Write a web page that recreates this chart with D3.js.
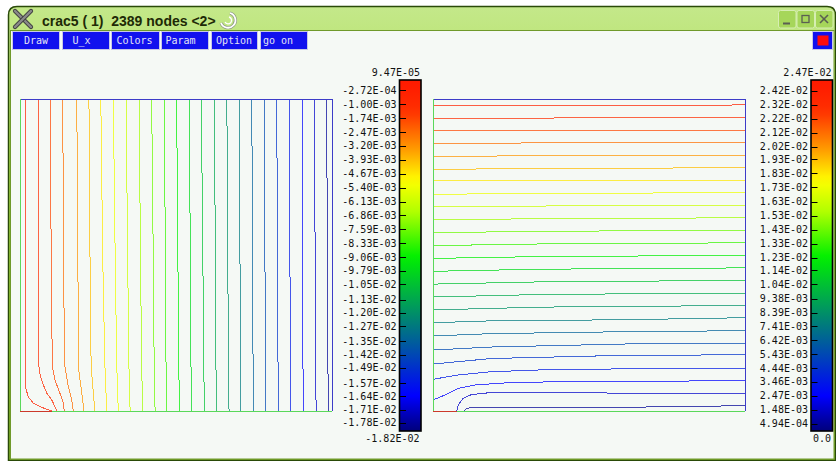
<!DOCTYPE html>
<html>
<head>
<meta charset="utf-8">
<script src="https://cdn.jsdelivr.net/npm/d3@7"></script>
<style>
  html, body { margin: 0; padding: 0; background: #ffffff; }
  svg { display: block; }
  .mono { font-family: "DejaVu Sans Mono", "Liberation Mono", monospace; font-size: 10px; }
</style>
</head>
<body>
<svg id="chart" width="836" height="461"></svg>
<script>
// ---------------------------------------------------------------------------
// Data
// ---------------------------------------------------------------------------
const windowTitle = "crac5 ( 1)  2389 nodes <2>";
const menuLabels = ["Draw", "U_x", "Colors", "Param", "Option", "go on"];

// U_x (left panel): iso-values listed on the colour bar and the field extremes
const uxLevels = [-2.72e-4, -1.00e-3, -1.74e-3, -2.47e-3, -3.20e-3, -3.93e-3, -4.67e-3,
  -5.40e-3, -6.13e-3, -6.86e-3, -7.59e-3, -8.33e-3, -9.06e-3, -9.79e-3, -1.05e-2,
  -1.13e-2, -1.20e-2, -1.27e-2, -1.35e-2, -1.42e-2, -1.49e-2, -1.57e-2, -1.64e-2,
  -1.71e-2, -1.78e-2];
const uxExtent = [-1.82e-2, 9.47e-5];

// U_y (right panel)
const uyLevels = [2.42e-2, 2.32e-2, 2.22e-2, 2.12e-2, 2.02e-2, 1.93e-2, 1.83e-2,
  1.73e-2, 1.63e-2, 1.53e-2, 1.43e-2, 1.33e-2, 1.23e-2, 1.14e-2, 1.04e-2,
  9.38e-3, 8.39e-3, 7.41e-3, 6.42e-3, 5.43e-3, 4.44e-3, 3.46e-3, 2.47e-3,
  1.48e-3, 4.94e-4];
const uyExtent = [0, 2.47e-2];

// Iso-lines of U_x on the unit square (x to the right, y upwards), one per level
const uxIsolines = [
  [[0.018,1],[0.018,0.2],[0.019,0.07],[0.027,0.045],[0.043,0.025],[0.064,0.014],[0.085,0.006],[0.101,0]],
  [[0.058,1],[0.059,0.4],[0.061,0.13],[0.066,0.111],[0.075,0.083],[0.086,0.057],[0.102,0.035],[0.112,0.014],[0.118,0]],
  [[0.098,1],[0.100,0.4],[0.104,0.142],[0.112,0.099],[0.128,0.057],[0.139,0.025],[0.142,0]],
  [[0.137,1],[0.140,0.4],[0.144,0.142],[0.155,0.078],[0.166,0.035],[0.171,0]],
  [[0.182,1],[0.186,0.4],[0.187,0.142],[0.198,0.057],[0.205,0]],
  [[0.221,1],[0.225,0.4],[0.228,0.142],[0.235,0.057],[0.240,0]],
  [[0.259,1],[0.265,0.5],[0.272,0.15],[0.278,0]],
  [[0.299,1],[0.305,0.5],[0.310,0.15],[0.315,0]],
  [[0.340,1],[0.345,0.5],[0.349,0.15],[0.353,0]],
  [[0.382,1],[0.386,0.5],[0.390,0.15],[0.393,0]],
  [[0.422,1],[0.427,0.5],[0.430,0.15],[0.433,0]],
  [[0.462,1],[0.466,0.5],[0.468,0.15],[0.470,0]],
  [[0.502,1],[0.506,0.5],[0.509,0.15],[0.511,0]],
  [[0.542,1],[0.546,0.5],[0.548,0.15],[0.550,0]],
  [[0.581,1],[0.586,0.5],[0.589,0.15],[0.591,0]],
  [[0.623,1],[0.626,0.5],[0.628,0.15],[0.630,0]],
  [[0.663,1],[0.666,0.5],[0.668,0.15],[0.670,0]],
  [[0.703,1],[0.705,0.5],[0.707,0.15],[0.708,0]],
  [[0.743,1],[0.745,0.5],[0.747,0.15],[0.748,0]],
  [[0.783,1],[0.785,0.5],[0.787,0.15],[0.788,0]],
  [[0.823,1],[0.825,0.5],[0.827,0.15],[0.828,0]],
  [[0.863,1],[0.865,0.5],[0.867,0.15],[0.868,0]],
  [[0.904,1],[0.905,0.5],[0.907,0.15],[0.908,0]],
  [[0.943,1],[0.946,0.5],[0.948,0.15],[0.949,0]],
  [[0.983,1],[0.985,0.5],[0.987,0.15],[0.988,0]]
];

// Iso-lines of U_y on the same square, one per level
const uyIsolines = [
  [[0,0.9785],[0.35,0.9800],[1,0.9808]],
  [[0,0.9381],[0.35,0.9390],[1,0.9407]],
  [[0,0.8984],[0.35,0.8995],[1,0.9003]],
  [[0,0.8580],[0.35,0.8592],[1,0.8603]],
  [[0,0.8163],[0.35,0.8180],[1,0.8202]],
  [[0,0.7747],[0.35,0.7770],[1,0.7798]],
  [[0,0.7372],[0.35,0.7385],[1,0.7397]],
  [[0,0.6946],[0.35,0.6975],[1,0.6997]],
  [[0,0.6538],[0.35,0.6570],[1,0.6596]],
  [[0,0.6125],[0.35,0.6165],[1,0.6192]],
  [[0,0.5715],[0.35,0.5760],[1,0.5792]],
  [[0,0.5301],[0.35,0.5355],[1,0.5391]],
  [[0,0.4891],[0.35,0.4950],[1,0.4987]],
  [[0,0.4478],[0.35,0.4545],[1,0.4587]],
  [[0,0.4067],[0.35,0.4140],[1,0.4186]],
  [[0,0.3654],[0.35,0.3735],[1,0.3782]],
  [[0,0.3240],[0.35,0.3330],[1,0.3381]],
  [[0,0.2830],[0.188,0.2890],[0.615,0.2925],[1,0.2990]],
  [[0,0.2404],[0.188,0.2480],[0.615,0.2542],[1,0.2574]],
  [[0,0.1955],[0.188,0.2051],[0.615,0.2147],[1,0.2170]],
  [[0,0.1506],[0.188,0.1683],[0.615,0.1785],[1,0.1800]],
  [[0,0.1016],[0.080,0.1154],[0.188,0.1260],[0.401,0.1337],[1,0.1369]],
  [[0,0.0353],[0.038,0.0513],[0.081,0.0728],[0.135,0.0833],[0.241,0.0907],[0.402,0.0939],[1,0.0971]],
  [[0.076,0],[0.081,0.0192],[0.097,0.0407],[0.124,0.0529],[0.188,0.0593],[0.535,0.0577],[1,0.0567]],
  [[0.100,0],[0.108,0.0087],[0.135,0.0119],[0.615,0.0119],[1,0.0170]]
];

// Boundary pieces of the cracked square: [from, to, boundary label]
const uxBoundary = [
  [[0, 0], [0.101, 0], 1],
  [[0.101, 0], [1, 0], 2],
  [[1, 0], [1, 1], 3],
  [[1, 1], [0, 1], 3],
  [[0, 1], [0, 0], 2]
];
const uyBoundary = [
  [[0, 0], [0.077, 0], 1],
  [[0.077, 0], [1, 0], 2],
  [[1, 0], [1, 1], 3],
  [[1, 1], [0, 1], 3],
  [[0, 1], [0, 0], 2]
];

// ---------------------------------------------------------------------------
// Styling / layout
// ---------------------------------------------------------------------------
const W = 836, H = 461;
const boundaryColor = { 1: "#cc3a2a", 2: "#5ad85a", 3: "#3c3cc8" };

// palette used for iso-lines and colour bars (0 = minimum, 1 = maximum)
const palette = d3.scaleLinear()
  .domain([0, 0.1, 0.5, 0.63, 0.72, 0.81, 0.92, 1])
  .range(["#00007c", "#0000ff", "#00f000", "#b0ff00", "#ffff00", "#ff9c00", "#ff3000", "#ff1a00"])
  .interpolate(d3.interpolateRgb)
  .clamp(true);

function fmtE(v) {
  if (v === 0) return "0.0";
  const [m, e] = v.toExponential(2).split("e");
  const n = +e;
  return m.toUpperCase() + "E" + (n < 0 ? "-" : "+") + String(Math.abs(n)).padStart(2, "0");
}

const svg = d3.select("#chart");
const defs = svg.append("defs");

// ---------------------------------------------------------------------------
// Window chrome
// ---------------------------------------------------------------------------
svg.append("rect").attr("width", W).attr("height", H).attr("fill", "#ffffff");

const tg = defs.append("linearGradient").attr("id", "titleGrad")
  .attr("x1", 0).attr("y1", 0).attr("x2", 0).attr("y2", 1);
tg.append("stop").attr("offset", "0").attr("stop-color", "#c4e88a");
tg.append("stop").attr("offset", "0.35").attr("stop-color", "#a8dc48");
tg.append("stop").attr("offset", "0.8").attr("stop-color", "#98cf32");
tg.append("stop").attr("offset", "1").attr("stop-color", "#84b42a");

// frame with rounded top corners
svg.append("path")
  .attr("d", "M8.5,460.5 V15 Q8.5,6.5 17,6.5 H827 Q835.5,6.5 835.5,15 V460.5 Z")
  .attr("fill", "url(#titleGrad)")
  .attr("stroke", "#2a4a08").attr("stroke-width", 1.5);

// client area
svg.append("rect")
  .attr("x", 10.5).attr("y", 30.5).attr("width", 823.5).attr("height", 428.5)
  .attr("fill", "#f5f9f5").attr("stroke", "#6f9a2a").attr("stroke-width", 1);

// X logo
const xl = svg.append("g").attr("stroke-linecap", "round");
[[15, 11, 31, 27], [31, 11, 15, 27]].forEach(s => {
  xl.append("line").attr("x1", s[0]).attr("y1", s[1]).attr("x2", s[2]).attr("y2", s[3])
    .attr("stroke", "#3e3e3e").attr("stroke-width", 4.2);
  xl.append("line").attr("x1", s[0]).attr("y1", s[1]).attr("x2", s[2]).attr("y2", s[3])
    .attr("stroke", "#8a8a8a").attr("stroke-width", 2.4);
});

// title
svg.append("text")
  .attr("x", 42).attr("y", 25.5)
  .attr("font-family", "'Liberation Sans', Arial, sans-serif")
  .attr("font-weight", "bold").attr("font-size", 14)
  .attr("fill", "#1e2a06")
  .attr("xml:space", "preserve")
  .style("white-space", "pre")
  .text(windowTitle);

// swirl emblem after the title
const sw = svg.append("g").attr("fill", "none");
sw.append("path").attr("d", "M230,13 A7.5,7.5 0 1 1 221,23")
  .attr("stroke", "#8f9a84").attr("stroke-width", 3.2);
sw.append("path").attr("d", "M230,13 A7.5,7.5 0 1 1 221,23")
  .attr("stroke", "#ffffff").attr("stroke-width", 1.8);
sw.append("path").attr("d", "M229,17 A3.5,3.5 0 1 1 225,22")
  .attr("stroke", "#ffffff").attr("stroke-width", 1.4);

// window buttons (minimise, maximise, close)
const wbX = [778, 796.5, 815];
wbX.forEach((x, i) => {
  svg.append("rect").attr("x", x + 0.5).attr("y", 10.5).attr("width", 17.5).attr("height", 17.5)
    .attr("rx", 2).attr("fill", "#a6d65a").attr("stroke", "#d6eeb2").attr("stroke-width", 1);
  const g = svg.append("g").attr("stroke", "#5a5f52").attr("fill", "none");
  if (i === 0) g.append("line").attr("x1", x + 5).attr("x2", x + 12).attr("y1", 23.5).attr("y2", 23.5).attr("stroke-width", 2);
  if (i === 1) g.append("rect").attr("x", x + 5.5).attr("y", 15.5).attr("width", 7).attr("height", 7).attr("stroke-width", 1.3);
  if (i === 2) {
    g.append("line").attr("x1", x + 5).attr("y1", 15).attr("x2", x + 13).attr("y2", 23).attr("stroke-width", 1.6);
    g.append("line").attr("x1", x + 13).attr("y1", 15).attr("x2", x + 5).attr("y2", 23).attr("stroke-width", 1.6);
  }
});

// menu bar
const menuX = [12, 62, 111, 161, 211, 260];
const menuW = [48, 48, 49, 48, 47, 48];
const menuTextX = [24, 72.5, 116.5, 165.5, 216, 263];
const menu = svg.append("g");
menuLabels.forEach((lab, i) => {
  menu.append("rect")
    .attr("x", menuX[i] + 0.5).attr("y", 31.5).attr("width", menuW[i] - 1).attr("height", 18)
    .attr("fill", "#1111ee").attr("stroke", "#c8c8e6").attr("stroke-width", 1);
  menu.append("text").attr("class", "mono")
    .attr("x", menuTextX[i]).attr("y", 40.5).attr("dominant-baseline", "central")
    .attr("fill", "#e4e4f4").text(lab);
});
// colour toggle box on the right
svg.append("rect").attr("x", 812.5).attr("y", 31.5).attr("width", 20).attr("height", 18)
  .attr("fill", "#1111ee").attr("stroke", "#c8c8e6");
svg.append("rect").attr("x", 817.5).attr("y", 35.5).attr("width", 11).attr("height", 10)
  .attr("fill", "#ff0c0c");

// ---------------------------------------------------------------------------
// Panels
// ---------------------------------------------------------------------------
const yMesh = d3.scaleLinear().domain([0, 1]).range([411, 99]);
const line = (xs) => d3.line().x(d => xs(d[0])).y(d => yMesh(d[1]));

function drawPanel(opts) {
  const xs = d3.scaleLinear().domain([0, 1]).range(opts.xRange);
  const g = svg.append("g");
  const tOf = v => (v - opts.extent[0]) / (opts.extent[1] - opts.extent[0]);

  // iso-lines
  g.append("g").selectAll("path")
    .data(opts.isolines)
    .join("path")
    .attr("d", line(xs))
    .attr("fill", "none")
    .attr("stroke", (d, i) => palette(tOf(opts.levels[i])))
    .attr("stroke-width", 1)
    .attr("stroke-opacity", 0.72)
    .attr("shape-rendering", "crispEdges");

  // boundary
  g.append("g").selectAll("line")
    .data(opts.boundary)
    .join("line")
    .attr("x1", d => xs(d[0][0])).attr("y1", d => yMesh(d[0][1]))
    .attr("x2", d => xs(d[1][0])).attr("y2", d => yMesh(d[1][1]))
    .attr("stroke", d => boundaryColor[d[2]])
    .attr("stroke-width", 1)
    .attr("shape-rendering", "crispEdges");

  // colour bar
  const bar = opts.bar;
  const yVal = d3.scaleLinear().domain(opts.extent).range([430.5, 83.5]);
  const gid = "bar" + opts.id;
  const grad = defs.append("linearGradient").attr("id", gid)
    .attr("gradientUnits", "userSpaceOnUse")
    .attr("x1", 0).attr("x2", 0).attr("y1", bar.y0).attr("y2", bar.y1);
  d3.range(0, 41).forEach(k => {
    const y = bar.y0 + (bar.y1 - bar.y0) * k / 40;
    grad.append("stop").attr("offset", k / 40)
      .attr("stop-color", palette(tOf(yVal.invert(y))));
  });
  g.append("rect")
    .attr("x", bar.x).attr("y", bar.y0).attr("width", bar.w).attr("height", bar.y1 - bar.y0)
    .attr("fill", "url(#" + gid + ")").attr("stroke", "#000").attr("stroke-width", 1.6);

  // level ticks and labels
  const ticks = g.append("g");
  ticks.selectAll("line").data(opts.levels).join("line")
    .attr("x1", bar.x).attr("x2", bar.x + 6.5)
    .attr("y1", d => Math.round(yVal(d)) + 0.5).attr("y2", d => Math.round(yVal(d)) + 0.5)
    .attr("stroke", "#000").attr("stroke-width", 1);
  ticks.selectAll("text").data(opts.levels).join("text")
    .attr("class", "mono")
    .attr("x", bar.x - 3).attr("y", d => yVal(d))
    .attr("text-anchor", "end").attr("dominant-baseline", "central")
    .attr("fill", "#111").text(fmtE);

  // extreme values
  g.append("text").attr("class", "mono")
    .attr("x", bar.x + bar.w - 1).attr("y", 72)
    .attr("text-anchor", "end").attr("dominant-baseline", "central")
    .attr("fill", "#111").text(fmtE(opts.extent[1]));
  g.append("text").attr("class", "mono")
    .attr("x", bar.x + bar.w - 1.5).attr("y", 438.5)
    .attr("text-anchor", "end").attr("dominant-baseline", "central")
    .attr("fill", "#111").text(fmtE(opts.extent[0]));
}

drawPanel({
  id: "ux", xRange: [20, 332],
  levels: uxLevels, extent: uxExtent, isolines: uxIsolines, boundary: uxBoundary,
  bar: { x: 399.5, w: 21.5, y0: 80, y1: 431 }
});
drawPanel({
  id: "uy", xRange: [433, 745],
  levels: uyLevels, extent: uyExtent, isolines: uyIsolines, boundary: uyBoundary,
  bar: { x: 811, w: 21.5, y0: 80, y1: 431 }
});
</script>
</body>
</html>
